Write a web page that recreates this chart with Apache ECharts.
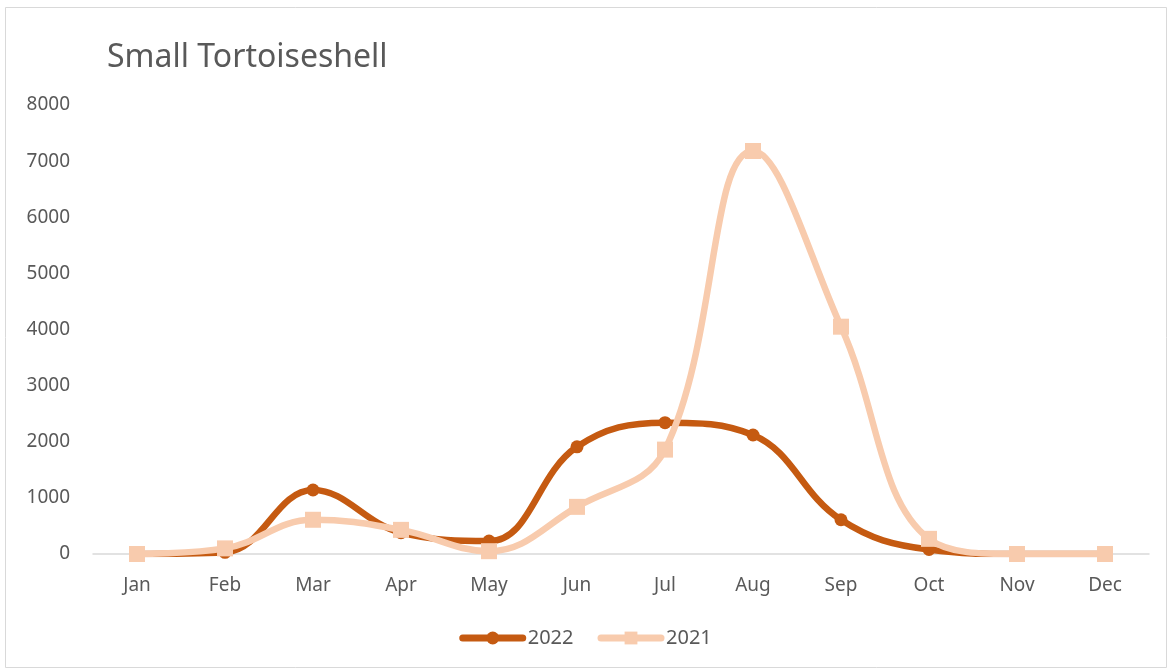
<!DOCTYPE html>
<html>
<head>
<meta charset="utf-8">
<script src="https://cdn.jsdelivr.net/npm/echarts@6/dist/echarts.min.js"></script>
<style>
  html, body { margin: 0; padding: 0; background: #fff; }
  #chart { width: 1171px; height: 671px; }
</style>
</head>
<body>
<div id="chart"></div>
<script>
var months = ['Jan','Feb','Mar','Apr','May','Jun','Jul','Aug','Sep','Oct','Nov','Dec'];
var y2022 = [0, 30, 1140, 380, 230, 1910, 2340, 2120, 610, 80, 0, 0];
var y2021 = [0, 100, 610, 430, 50, 840, 1860, 7180, 4050, 270, 0, 0];
var yTicks = { min: 0, max: 8000, interval: 1000 };

var font = 'Noto Sans';
var chart = echarts.init(document.getElementById('chart'));
chart.setOption({
  backgroundColor: '#fff',
  animation: false,
  textStyle: { fontFamily: font },
  title: {
    text: 'Small Tortoiseshell',
    left: 102, top: 37,
    textStyle: { fontSize: 32, fontWeight: 'normal', color: '#595959', fontFamily: font }
  },
  graphic: [{
    type: 'rect',
    shape: { x: 5.5, y: 7.5, width: 1161, height: 660 },
    style: { fill: 'none', stroke: '#d9d9d9', lineWidth: 1 }
  }],
  grid: { left: 93, right: 22, top: 105, bottom: 117 },
  legend: {
    bottom: 18, left: 'center',
    itemWidth: 60, itemHeight: 16, itemGap: 24,
    lineStyle: { width: 7, cap: 'round' },
    textStyle: { fontSize: 20, color: '#595959', fontFamily: font },
    data: ['2022', '2021']
  },
  xAxis: {
    type: 'category',
    data: months,
    boundaryGap: true,
    axisLine: { lineStyle: { color: '#d9d9d9', width: 1.5 } },
    axisTick: { show: false },
    axisLabel: { color: '#595959', fontSize: 19, margin: 22 }
  },
  yAxis: {
    type: 'value',
    min: yTicks.min, max: yTicks.max, interval: yTicks.interval,
    splitLine: { show: false },
    axisLine: { show: false },
    axisTick: { show: false },
    axisLabel: { color: '#595959', fontSize: 19, margin: 23, formatter: function (v) { return String(v); } }
  },
  series: [{
    name: '2022',
    type: 'line',
    data: y2022,
    smooth: 0.4,
    symbol: 'circle',
    symbolSize: 13,
    lineStyle: { width: 6.5, color: '#c55a11', cap: 'round' },
    itemStyle: { color: '#c55a11' }
  }, {
    name: '2021',
    type: 'line',
    data: y2021,
    smooth: 0.4,
    symbol: 'rect',
    symbolSize: 16,
    lineStyle: { width: 6.5, color: '#f8cbad', cap: 'round' },
    itemStyle: { color: '#f8cbad' }
  }]
});
</script>
</body>
</html>
